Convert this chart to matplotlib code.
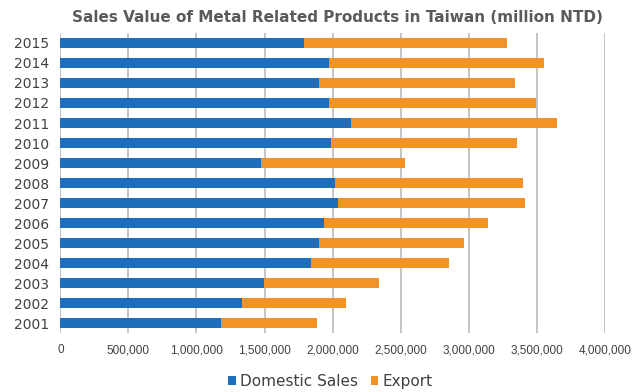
import matplotlib
matplotlib.use("Agg")
import matplotlib.pyplot as plt
from matplotlib.ticker import FuncFormatter

years = ["2001", "2002", "2003", "2004", "2005", "2006", "2007", "2008",
         "2009", "2010", "2011", "2012", "2013", "2014", "2015"]
domestic = [1183000, 1331000, 1497000, 1842000, 1899000, 1935000, 2038000, 2017000,
            1473000, 1992000, 2134000, 1971000, 1899000, 1977000, 1790000]
totals = [1887000, 2101000, 2340000, 2859000, 2968000, 3143000, 3417000, 3399000,
          2533000, 3357000, 3647000, 3493000, 3342000, 3553000, 3281000]
export = [t - d for t, d in zip(totals, domestic)]

plt.rcParams['font.family'] = ['DejaVu Sans']
blue = '#1E6EBE'
orange = '#F39325'
grey_text = '#404040'

fig = plt.figure(figsize=(6.42, 3.92), dpi=100)
ax = fig.add_axes([0.094, 0.150, 0.848, 0.766])

y = list(range(len(years)))
ax.barh(y, domestic, height=0.5, color=blue, label='Domestic Sales', zorder=3)
ax.barh(y, export, left=domestic, height=0.5, color=orange, label='Export', zorder=3)

ax.set_xlim(0, 4000000)
ax.set_ylim(-0.5, len(years) - 0.5)
ax.set_yticks(y)
ax.set_yticklabels(years, fontsize=10, color=grey_text)
ax.set_xticks(range(0, 4000001, 500000))
ax.xaxis.set_major_formatter(FuncFormatter(lambda v, p: f"{int(v):,}"))
for lab in ax.get_xticklabels():
    lab.set_fontsize(8.5)
    lab.set_family(['Liberation Sans', 'DejaVu Sans'])
    lab.set_color(grey_text)
ax.tick_params(axis='both', length=0)
ax.tick_params(axis='x', pad=8)
ax.tick_params(axis='y', pad=8)
ax.grid(axis='x', color='#BFBFBF', linewidth=1.3, zorder=0)
for s in ax.spines.values():
    s.set_visible(False)

fig.suptitle("Sales Value of Metal Related Products in Taiwan (million NTD)",
             fontsize=11, fontweight='bold', color='#5A5A5A', x=0.525, y=0.975)

leg = fig.legend(loc='center', bbox_to_anchor=(0.515, 0.027), ncol=2, frameon=False,
                 fontsize=11, handlelength=0.5, handleheight=0.5, handletextpad=0.3,
                 columnspacing=0.8)
for t in leg.get_texts():
    t.set_color(grey_text)

fig.savefig("out.png", dpi=100)
